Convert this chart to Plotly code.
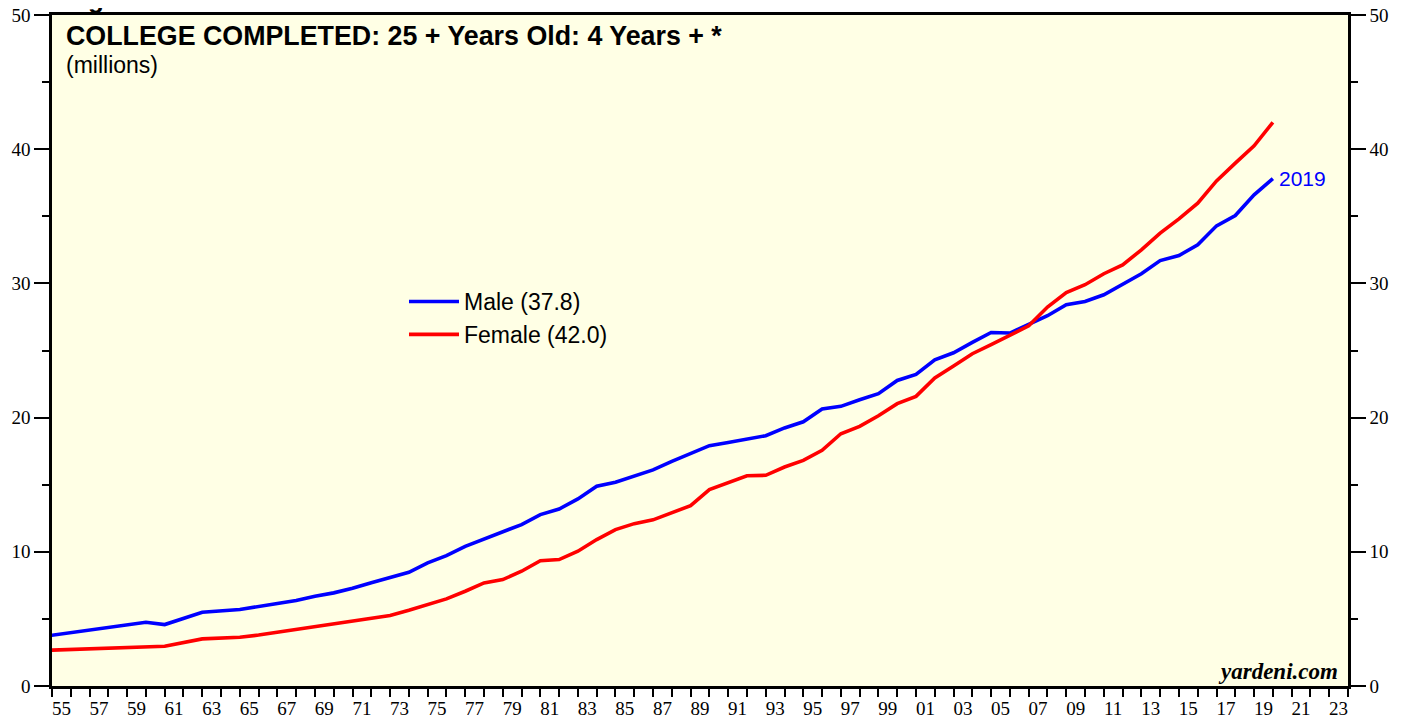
import plotly.graph_objects as go

# ---- data (millions, 25+ years old with 4+ years of college) ----
years = [1952, 1957, 1959, 1960, 1962] + list(range(1964, 2020))
male = [3.40, 4.37, 4.75, 4.58, 5.50,
        5.70, 5.90, 6.15, 6.37, 6.69, 6.94, 7.28, 7.70, 8.10, 8.47,
        9.17, 9.72, 10.41, 10.96, 11.45, 12.03, 12.77, 13.19, 13.94, 14.88,
        15.18, 15.62, 16.10, 16.74, 17.31, 17.91, 18.15, 18.41, 18.65, 19.23,
        19.69, 20.64, 20.84, 21.33, 21.78, 22.77, 23.22, 24.31, 24.83, 25.60,
        26.34, 26.30, 26.92, 27.59, 28.41, 28.65, 29.15, 29.97, 30.72, 31.70,
        32.08, 32.87, 34.29, 35.06, 36.60, 37.80]
female = [2.58, 2.78, 2.90, 2.96, 3.51,
          3.63, 3.80, 4.00, 4.21, 4.45, 4.63, 4.80, 5.00, 5.25, 5.64,
          6.07, 6.49, 7.06, 7.68, 7.93, 8.55, 9.34, 9.42, 10.04, 10.91,
          11.65, 12.10, 12.38, 12.94, 13.44, 14.63, 15.13, 15.67, 15.70, 16.32,
          16.81, 17.56, 18.80, 19.35, 20.14, 21.04, 21.58, 22.95, 23.84, 24.76,
          25.43, 26.17, 26.84, 28.24, 29.32, 29.90, 30.72, 31.38, 32.50, 33.75,
          34.81, 35.98, 37.64, 38.96, 40.25, 42.00]

label_years = list(range(1955, 2024, 2))
tick_labels = [f"{y % 100:02d}" for y in label_years]
y_ticks = [0, 10, 20, 30, 40, 50]

# annual observations are plotted at year end
x_plot = [y + 1 for y in years]

BG = "#FFFFE5"
SANS = "Liberation Sans, Arial, sans-serif"
SERIF = "Liberation Serif, Times New Roman, serif"

fig = go.Figure()
fig.add_trace(go.Scatter(x=x_plot, y=male, mode="lines",
                         name=f"Male ({male[-1]:.1f})",
                         line=dict(color="#0000FF", width=3.6)))
fig.add_trace(go.Scatter(x=x_plot, y=female, mode="lines",
                         name=f"Female ({female[-1]:.1f})",
                         line=dict(color="#FF0000", width=3.6)))
# empty trace to activate the right-hand axis
fig.add_trace(go.Scatter(x=[], y=[], yaxis="y2", showlegend=False,
                         hoverinfo="skip"))

axis_common = dict(showline=True, linecolor="black", linewidth=2.5,
                   showgrid=False, zeroline=False, automargin=False,
                   ticklabeloverflow="allow",
                   tickfont=dict(family=SERIF, size=19, color="black"))

fig.update_layout(
    width=1407, height=719,
    margin=dict(l=44, r=67, t=7, b=41, autoexpand=False),
    paper_bgcolor="white",
    plot_bgcolor=BG,
    showlegend=True,
    legend=dict(x=0.2716, y=0.605, xanchor="left", yanchor="top",
                bgcolor="rgba(0,0,0,0)", borderwidth=0, itemwidth=50,
                font=dict(family=SANS, size=23, color="black"),
                tracegroupgap=0),
    xaxis=dict(range=[1955, 2024], mirror=True,
               tickmode="array", tickvals=[y + 0.5 for y in label_years],
               ticktext=tick_labels, ticks="outside", ticklen=3,
               tickcolor="rgba(0,0,0,0)",
               minor=dict(tickmode="array", tickvals=list(range(1955, 2025)),
                          ticks="outside", ticklen=8, tickwidth=2,
                          tickcolor="black"),
               **axis_common),
    yaxis=dict(range=[0, 50], mirror=True, tickmode="array", tickvals=y_ticks,
               ticks="outside", ticklen=15, tickwidth=1.5, tickcolor="black",
               minor=dict(dtick=5, tick0=0, ticks="outside", ticklen=7,
                          tickwidth=1.5, tickcolor="black"),
               **axis_common),
    yaxis2=dict(range=[0, 50], overlaying="y", side="right",
                tickmode="array", tickvals=y_ticks,
                ticks="outside", ticklen=15, tickwidth=1.5, tickcolor="black",
                minor=dict(dtick=5, tick0=0, ticks="outside", ticklen=7,
                           tickwidth=1.5, tickcolor="black"),
                **axis_common),
)

fig.add_annotation(xref="paper", yref="paper", x=0.0095, y=0.9687,
                   xanchor="left", yanchor="middle", showarrow=False,
                   text="<b>COLLEGE COMPLETED: 25 + Years Old: 4 Years + *</b>",
                   font=dict(family=SANS, size=26.8, color="black"))
fig.add_annotation(xref="paper", yref="paper", x=0.0095, y=0.9255,
                   xanchor="left", yanchor="middle", showarrow=False,
                   text="(millions)",
                   font=dict(family=SANS, size=23, color="black"))
fig.add_annotation(x=x_plot[-1], y=male[-1], xanchor="left", yanchor="middle",
                   xshift=4, showarrow=False, text=str(years[-1]),
                   font=dict(family=SANS, size=21, color="#0000FF"))
fig.add_annotation(xref="paper", yref="paper", x=0.9938, y=0.021,
                   xanchor="right", yanchor="middle", showarrow=False,
                   text="<b><i>yardeni.com</i></b>",
                   font=dict(family=SERIF, size=23, color="black"))
# clipped descender of a line of text above the figure
fig.add_annotation(xref="paper", yref="paper", x=0.034, y=1.0,
                   xanchor="center", yanchor="bottom", yshift=-1,
                   showarrow=False, text="<b>g</b>",
                   font=dict(family=SANS, size=26, color="black"))

fig.write_html("out.html")
